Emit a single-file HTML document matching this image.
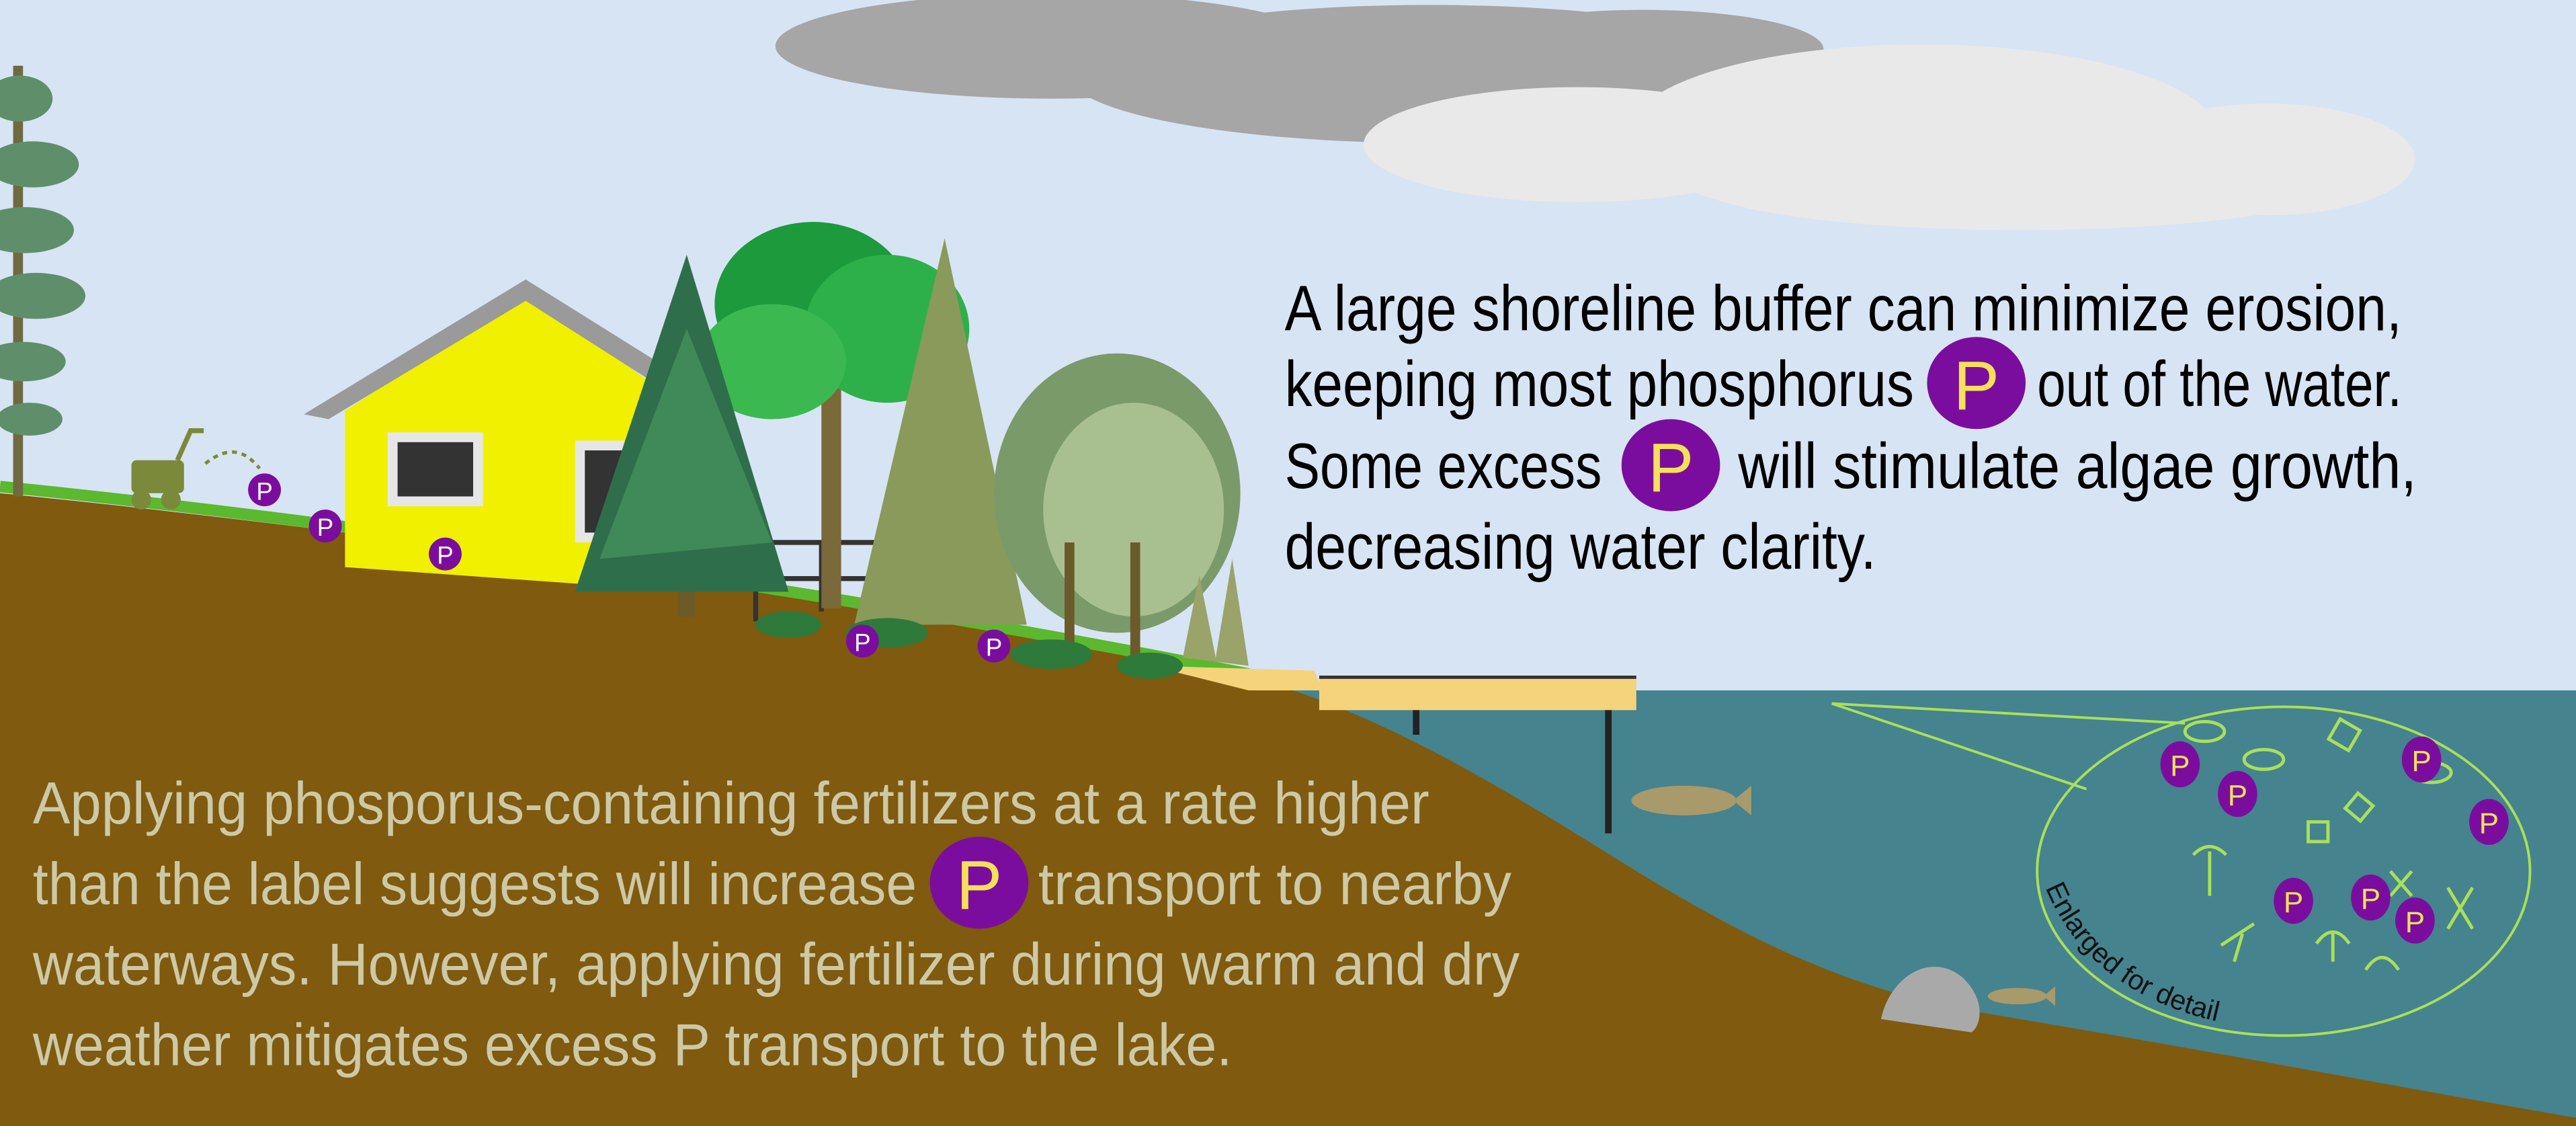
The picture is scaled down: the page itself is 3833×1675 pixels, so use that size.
<!DOCTYPE html>
<html><head><meta charset="utf-8"><style>
html,body{margin:0;padding:0;width:3833px;height:1675px;overflow:hidden;background:#d7e4f4}
svg{display:block}
text{font-family:"Liberation Sans",sans-serif}
</style></head><body>
<svg width="3833" height="1675" viewBox="0 0 1568 685" preserveAspectRatio="none" xmlns="http://www.w3.org/2000/svg">
<rect x="0" y="0" width="1568" height="685" fill="#d7e4f4"/>
<g fill="#a6a6a6">
<ellipse cx="640" cy="28" rx="168" ry="32"/><ellipse cx="870" cy="45" rx="220" ry="42"/><ellipse cx="1000" cy="30" rx="110" ry="24"/>
</g>
<g fill="#e9e9e9">
<ellipse cx="960" cy="88" rx="130" ry="35"/><ellipse cx="1170" cy="82" rx="180" ry="55"/><ellipse cx="1380" cy="97" rx="90" ry="34"/><ellipse cx="1230" cy="110" rx="200" ry="30"/>
</g>
<rect x="700" y="420" width="868" height="265" fill="#45838f"/>
<path d="M0,300 C200,320 500,360 760,412 C830,430 900,470 980,520 C1060,570 1120,600 1200,615 C1350,640 1480,665 1568,680 L1568,685 L0,685 Z" fill="#7f5a0f"/>
<path d="M0,296 C200,316 500,358 760,410" stroke="#5cb82e" stroke-width="7" fill="none"/>
<path d="M700,405 L800,408 L805,420 L760,420 Z" fill="#f5d37a"/>
<g>
<rect x="8" y="40" width="6" height="262" fill="#6f6a3f"/>
<g fill="#5f8f6a"><ellipse cx="12" cy="60" rx="20" ry="14"/><ellipse cx="20" cy="100" rx="28" ry="14"/><ellipse cx="15" cy="140" rx="30" ry="14"/><ellipse cx="22" cy="180" rx="30" ry="14"/><ellipse cx="14" cy="220" rx="26" ry="12"/><ellipse cx="18" cy="255" rx="20" ry="10"/></g>
</g>
<g>
<path d="M210,250 L320,178 L420,250 L420,360 L210,345 Z" fill="#f0f000"/>
<path d="M185,252 L320,170 L440,245 L425,250 L320,183 L200,255 Z" fill="#9a9a9a"/>
<rect x="236" y="263" width="58" height="45" fill="#e6e6e6"/><rect x="242" y="269" width="46" height="33" fill="#333"/>
<rect x="350" y="268" width="40" height="62" fill="#e6e6e6"/><rect x="356" y="274" width="30" height="50" fill="#333"/>
</g>
<g stroke="#333" stroke-width="3" fill="none">
<path d="M420,330 L560,330 M420,330 L420,360 M460,330 L460,378 M500,330 L500,372 M420,352 L560,352"/>
</g>
<g>
<rect x="500" y="200" width="12" height="170" fill="#7a6a3a"/>
<ellipse cx="495" cy="185" rx="60" ry="50" fill="#1c9a3c"/><ellipse cx="540" cy="200" rx="50" ry="45" fill="#2db04a"/><ellipse cx="470" cy="220" rx="45" ry="35" fill="#3cb850"/>
<rect x="413" y="250" width="10" height="125" fill="#6b5a2a"/>
<path d="M418,155 L480,360 L350,360 Z" fill="#2f6e4a"/><path d="M418,200 L470,330 L365,340 Z" fill="#3f8a58"/>
<rect x="572" y="180" width="8" height="200" fill="#6b5a2a"/>
<path d="M575,145 L625,380 L520,380 Z" fill="#8a9a5a"/>
<ellipse cx="680" cy="300" rx="75" ry="85" fill="#7a9a6a"/><ellipse cx="690" cy="310" rx="55" ry="65" fill="#a8c090"/>
<rect x="648" y="330" width="6" height="70" fill="#6b5a2a"/><rect x="688" y="330" width="6" height="70" fill="#6b5a2a"/>
<path d="M720,400 L730,350 L740,400 L750,340 L760,405 Z" fill="#9aa36a"/>
<g fill="#2e7a3a"><ellipse cx="480" cy="380" rx="20" ry="8"/><ellipse cx="540" cy="385" rx="25" ry="9"/><ellipse cx="640" cy="398" rx="25" ry="9"/><ellipse cx="700" cy="405" rx="20" ry="8"/></g>
</g>
<g fill="#7a8a3a">
<rect x="80" y="280" width="32" height="20" rx="3"/><circle cx="86" cy="304" r="6"/><circle cx="104" cy="304" r="6"/>
<path d="M108,280 L116,262 L124,262" stroke="#7a8a3a" stroke-width="3" fill="none"/>
<path d="M125,282 C140,270 150,275 158,285" stroke="#7a8a3a" stroke-width="2" stroke-dasharray="3,3" fill="none"/>
</g>
<g>
<rect x="803" y="412" width="193" height="20" fill="#f5d37a"/>
<rect x="860" y="432" width="4" height="15" fill="#222"/><rect x="977" y="432" width="4" height="75" fill="#222"/>
<path d="M803,412 H996" stroke="#333" stroke-width="2"/>
</g>
<g><ellipse cx="1025" cy="487" rx="32" ry="9" fill="#a89a6a"/><path d="M1055,487 L1066,478 L1066,496 Z" fill="#a89a6a"/></g>
<g><ellipse cx="1228" cy="606" rx="18" ry="5" fill="#a89a6a"/><path d="M1244,606 L1251,600 L1251,612 Z" fill="#a89a6a"/></g>
<path d="M1145,620 C1150,595 1175,578 1195,595 C1210,610 1205,625 1200,628 Z" fill="#a9a9a9"/>
<g stroke="#a8e05a" fill="none" stroke-width="1.6">
<path d="M1115,428 L1270,480 M1115,428 L1330,440"/>
<ellipse cx="1390" cy="530" rx="150" ry="100"/>
</g>
<path id="arc" d="M1245,540 C1270,600 1330,630 1425,628" fill="none"/>
<text font-size="17" fill="#111"><textPath href="#arc">Enlarged for detail</textPath></text>
<g stroke="#a8e05a" stroke-width="2" fill="none">
<path d="M1345,518 L1345,545 M1335,520 Q1345,510 1355,520"/><path d="M1352,575 L1372,562 M1365,568 L1360,585"/>
<path d="M1410,574 Q1420,560 1430,574 M1420,568 L1420,585"/><path d="M1440,590 Q1450,575 1460,590"/>
<path d="M1490,540 L1505,565 M1505,540 L1490,565"/><path d="M1455,530 L1468,545 M1468,530 L1455,545"/>
<rect x="1420" y="440" width="14" height="14" transform="rotate(30 1427 447)"/><rect x="1405" y="500" width="12" height="12"/><rect x="1430" y="485" width="12" height="12" transform="rotate(40 1436 491)"/>
<ellipse cx="1342" cy="445" rx="12" ry="6"/><ellipse cx="1378" cy="462" rx="12" ry="6"/><ellipse cx="1480" cy="470" rx="12" ry="6"/>
</g>
<g font-size="15" text-anchor="middle" fill="#fff">
<g><circle cx="161" cy="298" r="10" fill="#7b0d9e"/><text x="161" y="304" fill="#fff">P</text></g>
<g><circle cx="198" cy="320" r="10" fill="#7b0d9e"/><text x="198" y="326" fill="#fff">P</text></g>
<g><circle cx="271" cy="337" r="10" fill="#7b0d9e"/><text x="271" y="343" fill="#fff">P</text></g>
<g><circle cx="525" cy="390" r="10" fill="#7b0d9e"/><text x="525" y="396" fill="#fff">P</text></g>
<g><circle cx="605" cy="393" r="10" fill="#7b0d9e"/><text x="605" y="399" fill="#fff">P</text></g>
</g>
<g font-size="18" text-anchor="middle">
<g><ellipse cx="1327" cy="465" rx="12" ry="14" fill="#7b0d9e"/><text x="1327" y="472" fill="#f5e05a">P</text></g>
<g><ellipse cx="1362" cy="483" rx="12" ry="14" fill="#7b0d9e"/><text x="1362" y="490" fill="#f5e05a">P</text></g>
<g><ellipse cx="1474" cy="462" rx="12" ry="14" fill="#7b0d9e"/><text x="1474" y="469" fill="#f5e05a">P</text></g>
<g><ellipse cx="1515" cy="500" rx="12" ry="14" fill="#7b0d9e"/><text x="1515" y="507" fill="#f5e05a">P</text></g>
<g><ellipse cx="1396" cy="548" rx="12" ry="14" fill="#7b0d9e"/><text x="1396" y="555" fill="#f5e05a">P</text></g>
<g><ellipse cx="1443" cy="546" rx="12" ry="14" fill="#7b0d9e"/><text x="1443" y="553" fill="#f5e05a">P</text></g>
<g><ellipse cx="1470" cy="560" rx="12" ry="14" fill="#7b0d9e"/><text x="1470" y="567" fill="#f5e05a">P</text></g>
</g>
<g font-size="39" fill="#000">
<text x="782" y="201" textLength="680" lengthAdjust="spacingAndGlyphs">A large shoreline buffer can minimize erosion,</text>
<text x="782" y="247" textLength="383" lengthAdjust="spacingAndGlyphs">keeping most phosphorus</text>
<text x="1240" y="247" textLength="222" lengthAdjust="spacingAndGlyphs">out of the water.</text>
<text x="782" y="297" textLength="193" lengthAdjust="spacingAndGlyphs">Some excess</text>
<text x="1058" y="297" textLength="413" lengthAdjust="spacingAndGlyphs">will stimulate algae growth,</text>
<text x="782" y="346" textLength="360" lengthAdjust="spacingAndGlyphs">decreasing water clarity.</text>
<ellipse cx="1203" cy="233" rx="30" ry="28" fill="#7b0d9e"/><text x="1203" y="249" font-size="42" text-anchor="middle" fill="#f5e05a">P</text>
<ellipse cx="1017" cy="283" rx="30" ry="28" fill="#7b0d9e"/><text x="1017" y="299" font-size="42" text-anchor="middle" fill="#f5e05a">P</text>
</g>
<g font-size="36" fill="#cdc9a6">
<text x="20" y="501" textLength="850" lengthAdjust="spacingAndGlyphs">Applying phosporus-containing fertilizers at a rate higher</text>
<text x="20" y="550" textLength="538" lengthAdjust="spacingAndGlyphs">than the label suggests will increase</text>
<text x="632" y="550" textLength="288" lengthAdjust="spacingAndGlyphs">transport to nearby</text>
<text x="20" y="599" textLength="905" lengthAdjust="spacingAndGlyphs">waterways. However, applying fertilizer during warm and dry</text>
<text x="20" y="648" textLength="730" lengthAdjust="spacingAndGlyphs">weather mitigates excess P transport to the lake.</text>
<ellipse cx="596" cy="537" rx="30" ry="28" fill="#7b0d9e"/><text x="596" y="553" font-size="42" text-anchor="middle" fill="#f5e05a">P</text>
</g>
</svg>
</body></html>
